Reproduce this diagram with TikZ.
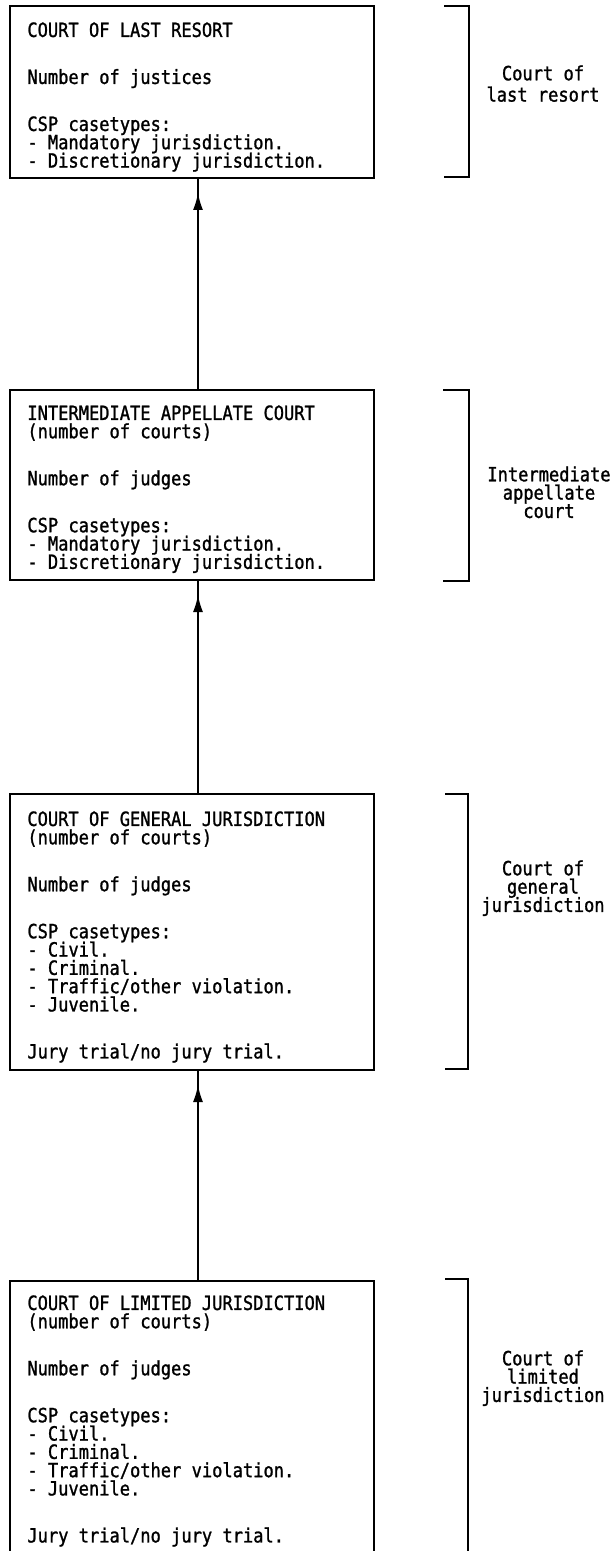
\documentclass[tikz,border=0pt]{standalone}
\usepackage{fontspec}
\newfontfamily\dmfont[FakeStretch=0.87,FakeBold=1.2]{DejaVu Sans Mono}
\usetikzlibrary{arrows.meta,calc}
\newcommand\cfont{\dmfont\fontsize{9.8}{9.15}\selectfont\lineskiplimit=-100pt\relax}
\tikzset{
  courtbox/.style={draw, line width=1pt, rectangle, inner sep=0pt, outer sep=0pt, anchor=north west, minimum width=182pt},
  openbox/.style={draw=none, rectangle, inner sep=0pt, outer sep=0pt, anchor=north west, minimum width=182pt},
  boxline/.style={line width=1pt},
  boxtext/.style={anchor=north west, inner sep=0pt, align=left, font=\cfont},
  sidelabel/.style={anchor=north, inner sep=0pt, align=center, font=\cfont},
  bracket/.style={line width=1pt},
  link/.style={line width=0.8pt},
  linkhead/.style={link, -{Latex[width=5pt,length=8.5pt]}},
}
\begin{document}
\begin{tikzpicture}[x=0.5pt,y=-0.5pt]
\fill[white] (0,0) rectangle (611,1551);
\useasboundingbox (0,0) rectangle (611,1551);

% boxes
\node[courtbox, minimum height=86pt] (b1) at (10,6) {};
\node[courtbox, minimum height=95pt] (b2) at (10,390) {};
\node[courtbox, minimum height=138pt] (b3) at (10,794) {};
\node[openbox, minimum height=135pt] (b4) at (10,1281) {};
\draw[boxline] (b4.south west) |- (b4.north east) -- (b4.south east);

% texts
\node[boxtext] (t1) at (27,22) {COURT OF LAST RESORT\\[14.35pt]
Number of justices\\[14.35pt]
CSP casetypes:\\
- Mandatory jurisdiction.\\
- Discretionary jurisdiction.};

\node[boxtext] (t2) at (27,405) {INTERMEDIATE APPELLATE COURT\\
(number of courts)\\[14.35pt]
Number of judges\\[14.35pt]
CSP casetypes:\\
- Mandatory jurisdiction.\\
- Discretionary jurisdiction.};

\node[boxtext] (t3) at (27,811) {COURT OF GENERAL JURISDICTION\\
(number of courts)\\[14.35pt]
Number of judges\\[14.35pt]
CSP casetypes:\\
- Civil.\\
- Criminal.\\
- Traffic/other violation.\\
- Juvenile.\\[14.35pt]
Jury trial/no jury trial.};

\node[boxtext] (t4) at (27,1295) {COURT OF LIMITED JURISDICTION\\
(number of courts)\\[14.35pt]
Number of judges\\[14.35pt]
CSP casetypes:\\
- Civil.\\
- Criminal.\\
- Traffic/other violation.\\
- Juvenile.\\[14.35pt]
Jury trial/no jury trial.};

% connectors
\draw[link] ([xshift=3pt]b2.north) -- ([xshift=3pt]b1.south);
\draw[linkhead] ([xshift=3pt]b2.north) -- ([xshift=3pt,yshift=-7.5pt]b1.south);
\draw[link] ([xshift=3pt]b3.north) -- ([xshift=3pt]b2.south);
\draw[linkhead] ([xshift=3pt]b3.north) -- ([xshift=3pt,yshift=-7.5pt]b2.south);
\draw[link] ([xshift=3pt]b4.north) -- ([xshift=3pt]b3.south);
\draw[linkhead] ([xshift=3pt]b4.north) -- ([xshift=3pt,yshift=-7.5pt]b3.south);

% brackets
\draw[bracket] (444,6) -| (469,177) -- (444,177);
\draw[bracket] (443,390) -| (469,581) -- (443,581);
\draw[bracket] (445,794) -| (468,1069) -- (445,1069);
\draw[bracket] (445,1279) -| (468,1551);

% side labels
\node[sidelabel] (l1) at (543,65) {Court of\\[1.5pt]last resort};
\node[sidelabel] (l2) at (549,466) {Intermediate\\appellate\\court};
\node[sidelabel] (l3) at (543,860) {Court of\\general\\jurisdiction};
\node[sidelabel] (l4) at (543,1350) {Court of\\limited\\jurisdiction};
\end{tikzpicture}
\end{document}
